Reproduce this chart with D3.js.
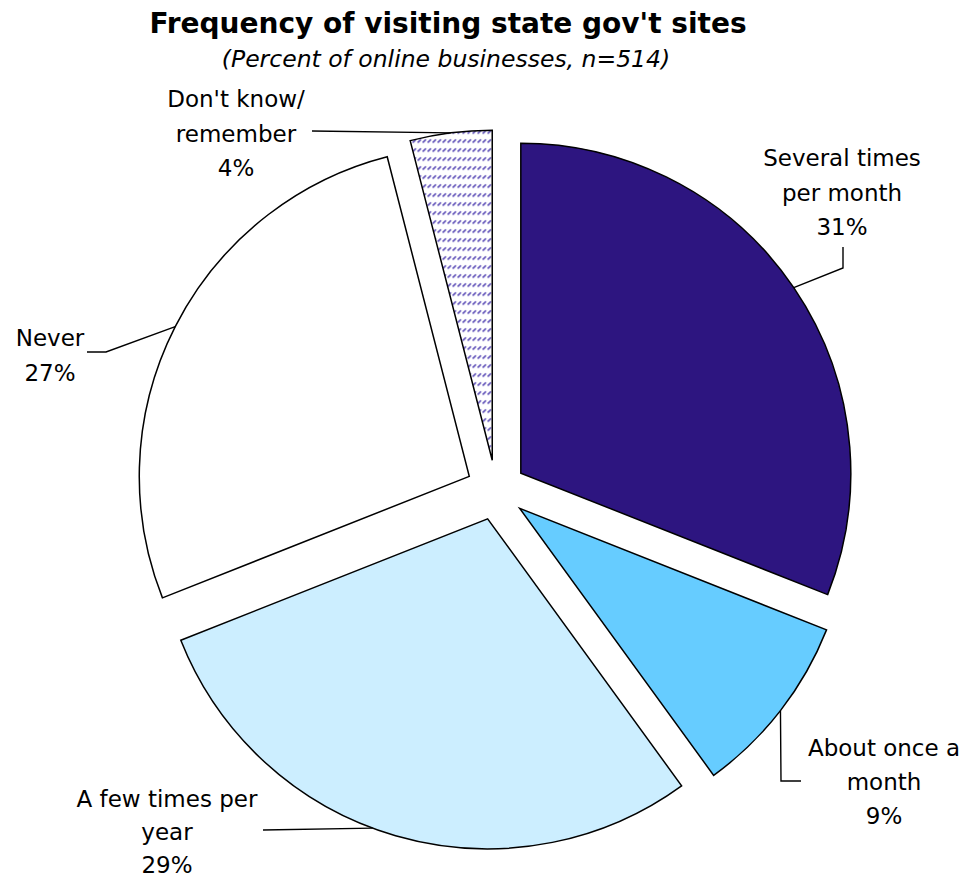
<!DOCTYPE html>
<html>
<head>
<meta charset="utf-8">
<script src="https://cdn.jsdelivr.net/npm/d3@7"></script>
<style>
  html, body { margin: 0; padding: 0; background: #fff; }
  svg { display: block; }
  text { font-family: "DejaVu Sans", Verdana, sans-serif; fill: #000; }
</style>
</head>
<body>
<svg id="chart" width="974" height="880"></svg>
<script>
// Survey answers, clockwise from 12 o'clock
const categories = [
  "Several times per month",
  "About once a month",
  "A few times per year",
  "Never",
  "Don't know/ remember"
];
const percents = [31, 9, 29, 27, 4];
const labelLines = [
  ["Several times", "per month", "31%"],
  ["About once a", "month", "9%"],
  ["A few times per", "year", "29%"],
  ["Never", "27%"],
  ["Don't know/", "remember", "4%"]
];

const titleText = "Frequency of visiting state gov't sites";
const subtitleText = "(Percent of online businesses, n=514)";

// Slice fills ("hatch" uses the dashed-diagonal pattern)
const fills = ["#2d1580", "#66ccff", "#cceeff", "#ffffff", "url(#hatch)"];

// Label layout: text centre x, first baseline, line step, where along the
// slice's rim the leader starts (0..1 of its sweep), and the leader's bends
const layout = [
  { x: 842, y: 166, step: 34.5, at: 0.5,  leader: [[843, 268], [843, 247]] },
  { x: 884, y: 756, step: 34,   at: 0.5,  leader: [[781, 781], [801, 781]] },
  { x: 167, y: 807, step: 33,   at: 0.54, leader: [[263, 830]] },
  { x: 50,  y: 346, step: 34.5, at: 0.5,  leader: [[106, 352], [87, 352]] },
  { x: 236, y: 107, step: 34.5, at: 0.5,  leader: [[312, 131]] }
];

const svg = d3.select("#chart");
const cx = 496, cy = 490, radius = 330, explode = 30;

// Hatch pattern for the "Don't know" slice
const defs = svg.append("defs");
const pat = defs.append("pattern")
  .attr("id", "hatch")
  .attr("patternUnits", "userSpaceOnUse")
  .attr("width", 5).attr("height", 9);
pat.append("rect").attr("width", 5).attr("height", 9).attr("fill", "#fff");
pat.append("line")
  .attr("x1", 0.5).attr("y1", 6.5).attr("x2", 3.8).attr("y2", 3.2)
  .attr("stroke", "#5646b4").attr("stroke-width", 1.6);

// Title and subtitle
svg.append("text")
  .attr("x", 448).attr("y", 33)
  .attr("text-anchor", "middle")
  .style("font-weight", "bold").style("font-size", "28px")
  .text(titleText);
svg.append("text")
  .attr("x", 446).attr("y", 67)
  .attr("text-anchor", "middle")
  .style("font-style", "italic").style("font-size", "23.5px")
  .text(subtitleText);

const data = categories.map((c, i) => ({ category: c, value: percents[i], lines: labelLines[i], fill: fills[i], layout: layout[i] }));

const pie = d3.pie().sort(null).value(d => d.value).startAngle(0).endAngle(2 * Math.PI);
const arcs = pie(data);
const arc = d3.arc().innerRadius(0).outerRadius(radius);

const polar = (a, r) => [r * Math.sin(a), -r * Math.cos(a)];

const g = svg.append("g").attr("transform", `translate(${cx},${cy})`);

const slices = g.selectAll("g.slice").data(arcs).join("g")
  .attr("class", "slice")
  .attr("transform", d => {
    const [ox, oy] = polar((d.startAngle + d.endAngle) / 2, explode);
    return `translate(${ox},${oy})`;
  });

slices.append("path")
  .attr("d", arc)
  .attr("fill", d => d.data.fill)
  .attr("stroke", "#000")
  .attr("stroke-width", 1.5)
  .attr("stroke-linejoin", "miter");

// Leader lines, in page coordinates
const line = d3.line();
arcs.forEach(d => {
  const mid = (d.startAngle + d.endAngle) / 2;
  const a = d.startAngle + (d.endAngle - d.startAngle) * d.data.layout.at;
  const [ox, oy] = polar(mid, explode);
  const [rx, ry] = polar(a, radius);
  const start = [cx + ox + rx, cy + oy + ry];
  svg.append("path")
    .attr("d", line([start, ...d.data.layout.leader]))
    .attr("fill", "none")
    .attr("stroke", "#000")
    .attr("stroke-width", 1.4);
});

// Category labels
arcs.forEach(d => {
  const L = d.data.layout;
  const t = svg.append("text")
    .attr("text-anchor", "middle")
    .style("font-size", "23px");
  d.data.lines.forEach((ln, i) => {
    t.append("tspan").attr("x", L.x).attr("y", L.y + i * L.step).text(ln);
  });
});
</script>
</body>
</html>
